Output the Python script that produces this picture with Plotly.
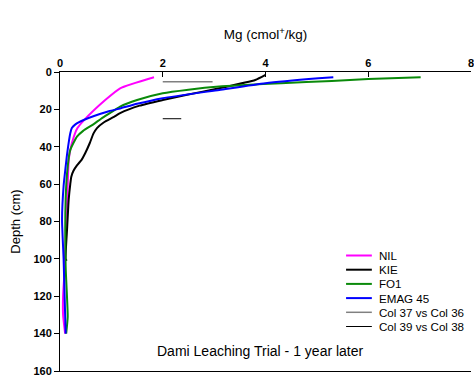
import plotly.graph_objects as go

# Mg profiles (cmol+/kg) against depth (cm) for each treatment
nil_depth = [2.8, 8.7, 15, 26, 30, 34.6, 41.7, 47, 68, 90, 106, 120, 130, 140]
nil_mg = [1.83, 1.17, 0.88, 0.46, 0.34, 0.27, 0.20, 0.17, 0.14, 0.11, 0.09, 0.06, 0.06, 0.10]

kie_depth = [1.6, 4.3, 8.7, 12.3, 15, 18, 22, 24, 27, 30, 33, 38, 43.5, 47, 50, 53, 56,
             60, 68, 83, 100, 101]
kie_mg = [4.0, 3.8, 3.1, 2.45, 2.0, 1.55, 1.17, 1.05, 0.85, 0.72, 0.65, 0.58, 0.49, 0.42, 0.33,
          0.26, 0.22, 0.20, 0.17, 0.14, 0.11, 0.13]

fo1_depth = [2.8, 3.8, 4.8, 6.0, 7.0, 7.8, 9.5, 11.4, 15, 18.5, 22, 25, 28, 31.5, 34.6, 41.7,
             50.6, 68, 104, 131, 140]
fo1_mg = [7.02, 6.0, 5.29, 4.3, 3.6, 3.1, 2.5, 2.0, 1.5, 1.17, 0.97, 0.80, 0.65, 0.45, 0.33,
          0.20, 0.15, 0.11, 0.11, 0.15, 0.12]

emag_depth = [2.8, 3.4, 6.0, 9.6, 14, 17, 19.5, 21, 25.7, 28, 30, 32.8, 43.5, 50.6, 61, 79,
              100, 120, 140]
emag_mg = [5.32, 5.03, 4.0, 3.1, 2.0, 1.5, 1.17, 0.95, 0.46, 0.30, 0.23, 0.20, 0.14, 0.11, 0.07,
           0.04, 0.07, 0.09, 0.11]

# LSD bars: start value, length and depth of each comparison
lsd_names = ["Col 37 vs Col 36", "Col 39 vs Col 38"]
lsd_start = [2.0, 2.0]
lsd_length = [0.97, 0.36]
lsd_depth = [5.2, 25.0]

series = [
    ("NIL", nil_mg, nil_depth, "#FF00FF", 2),
    ("KIE", kie_mg, kie_depth, "#000000", 2),
    ("FO1", fo1_mg, fo1_depth, "#0A8A0A", 2),
    ("EMAG 45", emag_mg, emag_depth, "#0000FF", 2),
]
lsd_styles = [("#808080", 1.5), ("#000000", 1)]

fig = go.Figure()
for name, mg, depth, color, width in series:
    fig.add_trace(go.Scatter(x=mg, y=depth, mode="lines", name=name,
                             line=dict(color=color, width=width, shape="spline", smoothing=0.5),
                             showlegend=False))
for name, x0, length, d, (color, width) in zip(lsd_names, lsd_start, lsd_length, lsd_depth,
                                               lsd_styles):
    fig.add_trace(go.Scatter(x=[x0, x0 + length], y=[d, d], mode="lines", name=name,
                             line=dict(color=color, width=width), showlegend=False))

# Key drawn in paper space, tightly spaced
W, H = 474, 378
L, R, T, B = 59.5, 0, 72, 7
pw, ph = W - L - R, H - T - B


def px_x(px):
    return (px - L) / pw


def px_y(py):
    return (H - B - py) / ph


key_items = [(s[0], s[3], s[4]) for s in series] + [
    (n, st[0], st[1]) for n, st in zip(lsd_names, lsd_styles)]
shapes = []
annotations = []
for i, (name, color, width) in enumerate(key_items):
    yy = 255.5 + i * 14.2
    shapes.append(dict(type="line", xref="paper", yref="paper",
                       x0=px_x(348), x1=px_x(374), y0=px_y(yy), y1=px_y(yy),
                       line=dict(color=color, width=width)))
    annotations.append(dict(xref="paper", yref="paper", x=px_x(379), y=px_y(yy),
                            text=name, showarrow=False, xanchor="left", yanchor="middle",
                            font=dict(family="Liberation Sans", size=11.6, color="#000000")))

annotations.append(dict(xref="paper", yref="paper", x=px_x(261.5), y=px_y(351),
                        text="Dami Leaching Trial - 1 year later", showarrow=False,
                        xanchor="center", yanchor="middle",
                        font=dict(family="Liberation Sans", size=14, color="#000000")))

fig.update_layout(
    width=W, height=H,
    margin=dict(l=L, r=R, t=T, b=B),
    paper_bgcolor="white", plot_bgcolor="white",
    font=dict(family="Liberation Sans", color="#000000"),
    shapes=shapes, annotations=annotations,
    showlegend=False,
    xaxis=dict(
        side="top", range=[0, 8], tickvals=[0, 2, 4, 6, 8],
        showgrid=False, zeroline=False,
        showline=True, linecolor="#000000", linewidth=1, mirror=True,
        ticks="inside", ticklen=5, tickcolor="#000000",
        ticklabeloverflow="allow",
        tickfont=dict(family="Liberation Sans", size=11, weight="bold"),
        title=dict(text="Mg (cmol<sup>+</sup>/kg)", standoff=13,
                   font=dict(family="Liberation Sans", size=13.5)),
    ),
    yaxis=dict(
        range=[160, 0], tickvals=[0, 20, 40, 60, 80, 100, 120, 140, 160],
        showgrid=False, zeroline=False,
        showline=True, linecolor="#000000", linewidth=1,
        ticks="outside", ticklen=5, tickcolor="#000000",
        tickfont=dict(family="Liberation Sans", size=11, weight="bold"),
        title=dict(text="Depth (cm)", standoff=9,
                   font=dict(family="Liberation Sans", size=13)),
    ),
)

fig.write_html("out.html")
